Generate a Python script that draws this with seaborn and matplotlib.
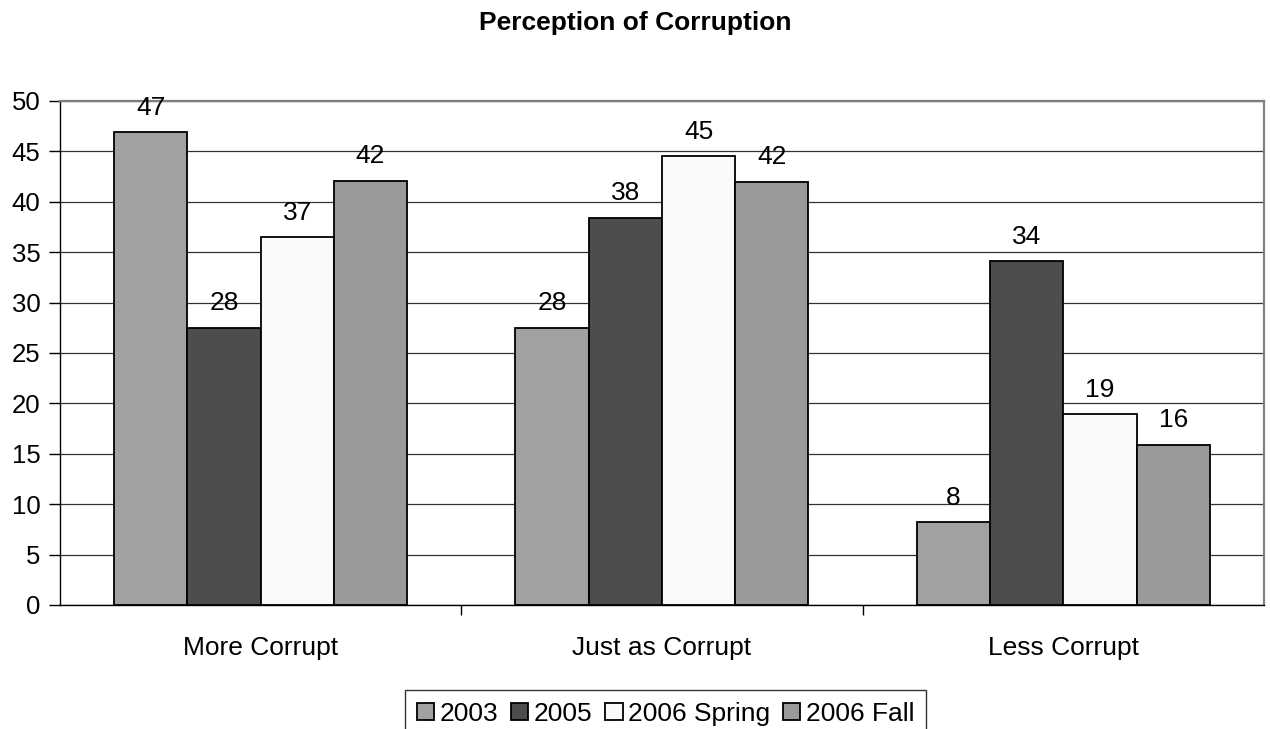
import pandas as pd
import numpy as np
import matplotlib
matplotlib.use("Agg")
import matplotlib.pyplot as plt
import seaborn as sns

# data
categories = ["More Corrupt", "Just as Corrupt", "Less Corrupt"]
series = ["2003", "2005", "2006 Spring", "2006 Fall"]
vals_2003 = [46.9, 27.5, 8.2]
vals_2005 = [27.5, 38.4, 34.1]
vals_spring = [36.5, 44.5, 18.9]
vals_fall = [42.1, 42.0, 15.9]
labels_2003 = ["47", "28", "8"]
labels_2005 = ["28", "38", "34"]
labels_spring = ["37", "45", "19"]
labels_fall = ["42", "42", "16"]
colors = ["#a1a1a1", "#4d4d4d", "#fafafa", "#9a9a9a"]

sns.set_style("white")
plt.rcParams['font.family'] = ['Liberation Sans', 'DejaVu Sans']
plt.rcParams['text.color'] = 'black'

rows = []
for s, vals in zip(series, [vals_2003, vals_2005, vals_spring, vals_fall]):
    for c, v in zip(categories, vals):
        rows.append({'category': c, 'series': s, 'value': v})
df = pd.DataFrame(rows)

fig = plt.figure(figsize=(12.7, 7.29), dpi=100)
ax = fig.add_axes([0.0472, 0.1701, 0.9481, 0.6914])

sns.barplot(data=df, x='category', y='value', hue='series', order=categories,
            hue_order=series, palette=colors, edgecolor='black', linewidth=1.3,
            width=0.73, gap=0, ax=ax, legend=True, saturation=1)

all_labels = [labels_2003, labels_2005, labels_spring, labels_fall]
for cont, labs in zip(ax.containers, all_labels):
    ax.bar_label(cont, labels=labs, padding=9, fontsize=19, color='black')

ax.set_ylim(0, 50)
ax.set_xlim(-0.5, 2.5)
ax.set_yticks(np.arange(0, 51, 5))
ax.yaxis.grid(True, color='#333333', linewidth=0.9)
ax.set_axisbelow(True)
ax.set_xlabel('')
ax.set_ylabel('')

ax.tick_params(axis='y', length=8, width=1, color='black', labelcolor='black',
               labelsize=18.5, pad=6, left=True)
ax.tick_params(axis='x', which='major', length=0, labelsize=19, labelcolor='black', pad=22)
ax.set_xticks([0.5, 1.5], minor=True)
ax.tick_params(axis='x', which='minor', length=7, width=1, color='black', bottom=True)

for side in ['top', 'right']:
    ax.spines[side].set_color('#808080')
    ax.spines[side].set_linewidth(1.6)
for side in ['left', 'bottom']:
    ax.spines[side].set_color('black')
    ax.spines[side].set_linewidth(1.0)

handles, labs = ax.get_legend_handles_labels()
ax.get_legend().remove()
leg = fig.legend(handles, labs, loc='center', bbox_to_anchor=(0.524, 0.021), ncol=4,
                 fontsize=19, frameon=True, fancybox=False, edgecolor='black',
                 handlelength=0.65, handleheight=0.65, handletextpad=0.2,
                 columnspacing=0.5, borderpad=0.45, borderaxespad=0)
leg.get_frame().set_linewidth(1.0)

fig.text(0.5, 0.968, 'Perception of Corruption', fontsize=19, fontweight='bold',
         ha='center', va='center', color='black')

fig.savefig('out.png', dpi=100)
